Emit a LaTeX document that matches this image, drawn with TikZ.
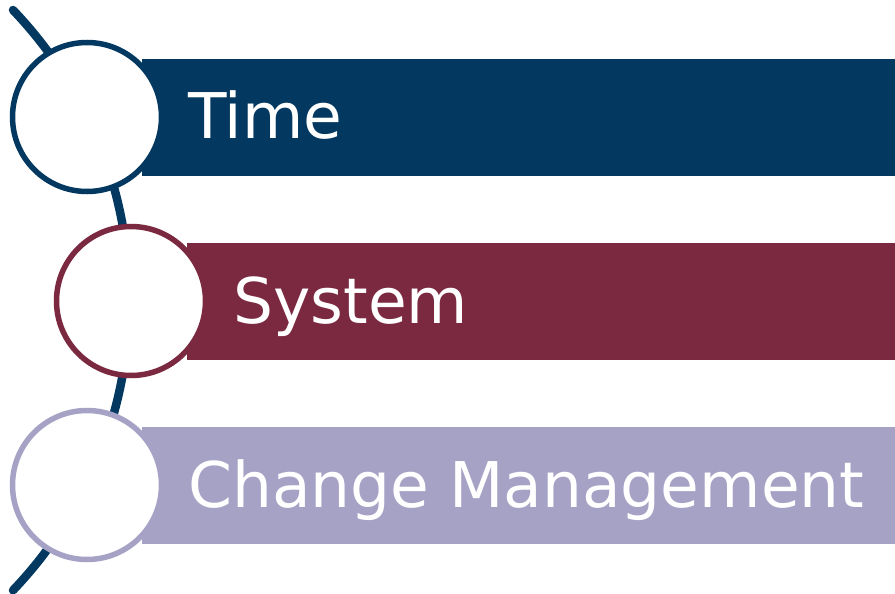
\documentclass[tikz,border=0pt]{standalone}
\usepackage{fontspec}
\setmainfont{DejaVu Sans}
\definecolor{navy}{RGB}{3,56,96}
\definecolor{wine}{RGB}{123,40,65}
\definecolor{lav}{RGB}{166,162,197}
\tikzset{
  bar/.style={rectangle, draw=none, inner sep=0pt, anchor=north west, minimum height=117pt},
  ring/.style={circle, fill=white, line width=5.5pt, minimum size=149pt, inner sep=0pt},
  label/.style={anchor=base west, inner sep=0pt, text=white, font=\fontsize{63}{70}\selectfont},
  spine/.style={draw=navy, line width=8.5pt, line cap=round}
}
\begin{document}
\begin{tikzpicture}[x=1pt,y=-1pt]
\useasboundingbox (0,0) rectangle (895,594);
\coordinate (top) at (13,10);
\draw[spine] (top) arc[start angle=-43.7, end angle=43.7, radius=420];
\node[bar, fill=navy, minimum width=753pt] (bar1) at (142,59) {};
\node[bar, fill=wine, minimum width=708pt] (bar2) at (187,243) {};
\node[bar, fill=lav, minimum width=753pt] (bar3) at (142,427) {};
\node[ring, draw=navy] (c1) at (87,117) {};
\node[ring, draw=wine] (c2) at (131,301) {};
\node[ring, draw=lav] (c3) at (87,485) {};
\node[label] (t1) at (188,139) {Time};
\node[label] (t2) at (233,323) {System};
\node[label] (t3) at (188,507) {Change Management};
\end{tikzpicture}
\end{document}
